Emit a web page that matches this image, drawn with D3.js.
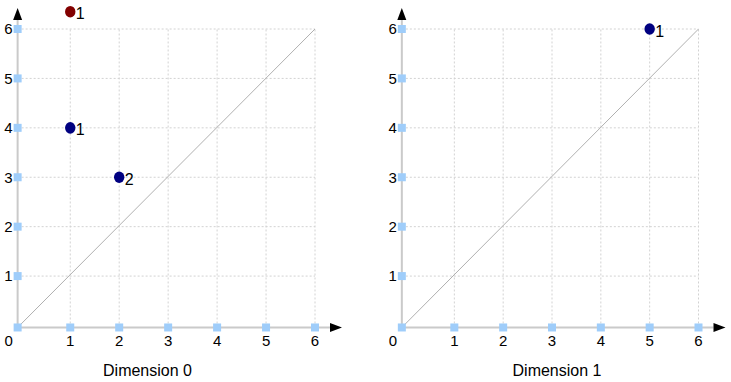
<!DOCTYPE html>
<html>
<head>
<meta charset="utf-8">
<script src="https://cdn.jsdelivr.net/npm/d3@7"></script>
<style>
  body { margin: 0; background: #fff; }
  text { font-family: "Liberation Sans", Arial, sans-serif; fill: #000; }
  .grid { stroke: #d2d2d2; stroke-width: 1; stroke-dasharray: 2,2; }
  .axisline { stroke: #cacaca; stroke-width: 2; }
  .diag { stroke: #b0b0b0; stroke-width: 1; }
</style>
</head>
<body>
<svg id="chart" width="731" height="382"></svg>
<script>
// data
var dimensions = ["Dimension 0", "Dimension 1"];
var ticks = [0, 1, 2, 3, 4, 5, 6];
// finite points per dimension: birth, death, multiplicity
var births0 = [1, 2], deaths0 = [4, 3], mults0 = [1, 2];
var births1 = [5], deaths1 = [6], mults1 = [1];
// points that never die (drawn above the plot)
var infBirths0 = [1], infMults0 = [1];
var infBirths1 = [], infMults1 = [];
var infLevel = 6.35;
var axisStart = -0.075;

var svg = d3.select("#chart");

var panels = [
    {title: dimensions[0], births: births0, deaths: deaths0, mults: mults0,
     infB: infBirths0, infM: infMults0, left: 21.3, right: 315, titleX: 147.5},
    {title: dimensions[1], births: births1, deaths: deaths1, mults: mults1,
     infB: infBirths1, infM: infMults1, left: 405.5, right: 698.5, titleX: 557}
];

var y = d3.scaleLinear().domain([0, 6]).range([325.5, 29]);
var yStart = -0.04;

panels.forEach(function (p) {
    var x = d3.scaleLinear().domain([0, 6]).range([p.left, p.right]);
    var g = svg.append("g");

    var x0 = x(axisStart), y0 = y(yStart);

    // grid
    g.selectAll("line.vg").data(ticks.slice(1)).enter().append("line")
        .attr("class", "grid")
        .attr("x1", function (d) { return x(d); }).attr("x2", function (d) { return x(d); })
        .attr("y1", y0).attr("y2", y(6));
    g.selectAll("line.hg").data(ticks.slice(1)).enter().append("line")
        .attr("class", "grid")
        .attr("y1", function (d) { return y(d); }).attr("y2", function (d) { return y(d); })
        .attr("x1", x0).attr("x2", x(6));

    // diagonal
    g.append("line").attr("class", "diag")
        .attr("x1", x0).attr("y1", y0).attr("x2", x(6)).attr("y2", y(6));

    // axes
    g.append("line").attr("class", "axisline")
        .attr("x1", x0).attr("y1", y0).attr("x2", x0).attr("y2", y(6) - 9);
    g.append("line").attr("class", "axisline")
        .attr("x1", x0).attr("y1", y0).attr("x2", x(6) + 15).attr("y2", y0);

    // arrow heads
    g.append("path").attr("fill", "#000")
        .attr("d", "M" + (x0 - 4.5) + "," + (y(6) - 9) + "L" + (x0 + 4.5) + "," + (y(6) - 9) +
            "L" + x0 + "," + (y(6) - 21) + "Z");
    g.append("path").attr("fill", "#000")
        .attr("d", "M" + (x(6) + 15) + "," + (y0 - 4.5) + "L" + (x(6) + 15) + "," + (y0 + 4.5) +
            "L" + (x(6) + 27) + "," + y0 + "Z");

    // tick squares
    g.selectAll("rect.xs").data(ticks).enter().append("rect")
        .attr("x", function (d) { return (d === 0 ? x0 : x(d)) - 4; })
        .attr("y", y0 - 4).attr("width", 8).attr("height", 8)
        .attr("fill", "#9fcdfa");
    g.selectAll("rect.ys").data(ticks.slice(1)).enter().append("rect")
        .attr("x", x0 - 4)
        .attr("y", function (d) { return y(d) - 4; }).attr("width", 8).attr("height", 8)
        .attr("fill", "#9fcdfa");

    // tick labels
    g.selectAll("text.xl").data(ticks).enter().append("text")
        .attr("x", function (d) { return d === 0 ? x0 - 9 : x(d); })
        .attr("y", y0 + 19)
        .attr("text-anchor", "middle").style("font-size", "15px")
        .text(function (d) { return d; });
    g.selectAll("text.yl").data(ticks.slice(1)).enter().append("text")
        .attr("x", x0 - 5)
        .attr("y", function (d) { return y(d) + 5.3; })
        .attr("text-anchor", "end").style("font-size", "15px")
        .text(function (d) { return d; });

    // title
    g.append("text").attr("x", p.titleX).attr("y", 375.5)
        .attr("text-anchor", "middle").style("font-size", "16px")
        .text(p.title);

    // points, finite and never-dying
    var pts = p.births.map(function (b, i) { return {b: b, d: p.deaths[i], m: p.mults[i], inf: false}; });
    p.infB.forEach(function (b, i) { pts.push({b: b, d: infLevel, m: p.infM[i], inf: true}); });

    g.selectAll("ellipse.pt").data(pts).enter().append("ellipse")
        .attr("cx", function (d) { return x(d.b); })
        .attr("cy", function (d) { return y(d.d); })
        .attr("rx", 5.2).attr("ry", 5.8)
        .attr("fill", function (d) { return d.inf ? "#820000" : "#000080"; });
    g.selectAll("text.pl").data(pts).enter().append("text")
        .attr("x", function (d) { return x(d.b) + 5.5; })
        .attr("y", function (d) { return y(d.d) + 7.5; })
        .style("font-size", "16px")
        .text(function (d) { return d.m; });
});
</script>
</body>
</html>
